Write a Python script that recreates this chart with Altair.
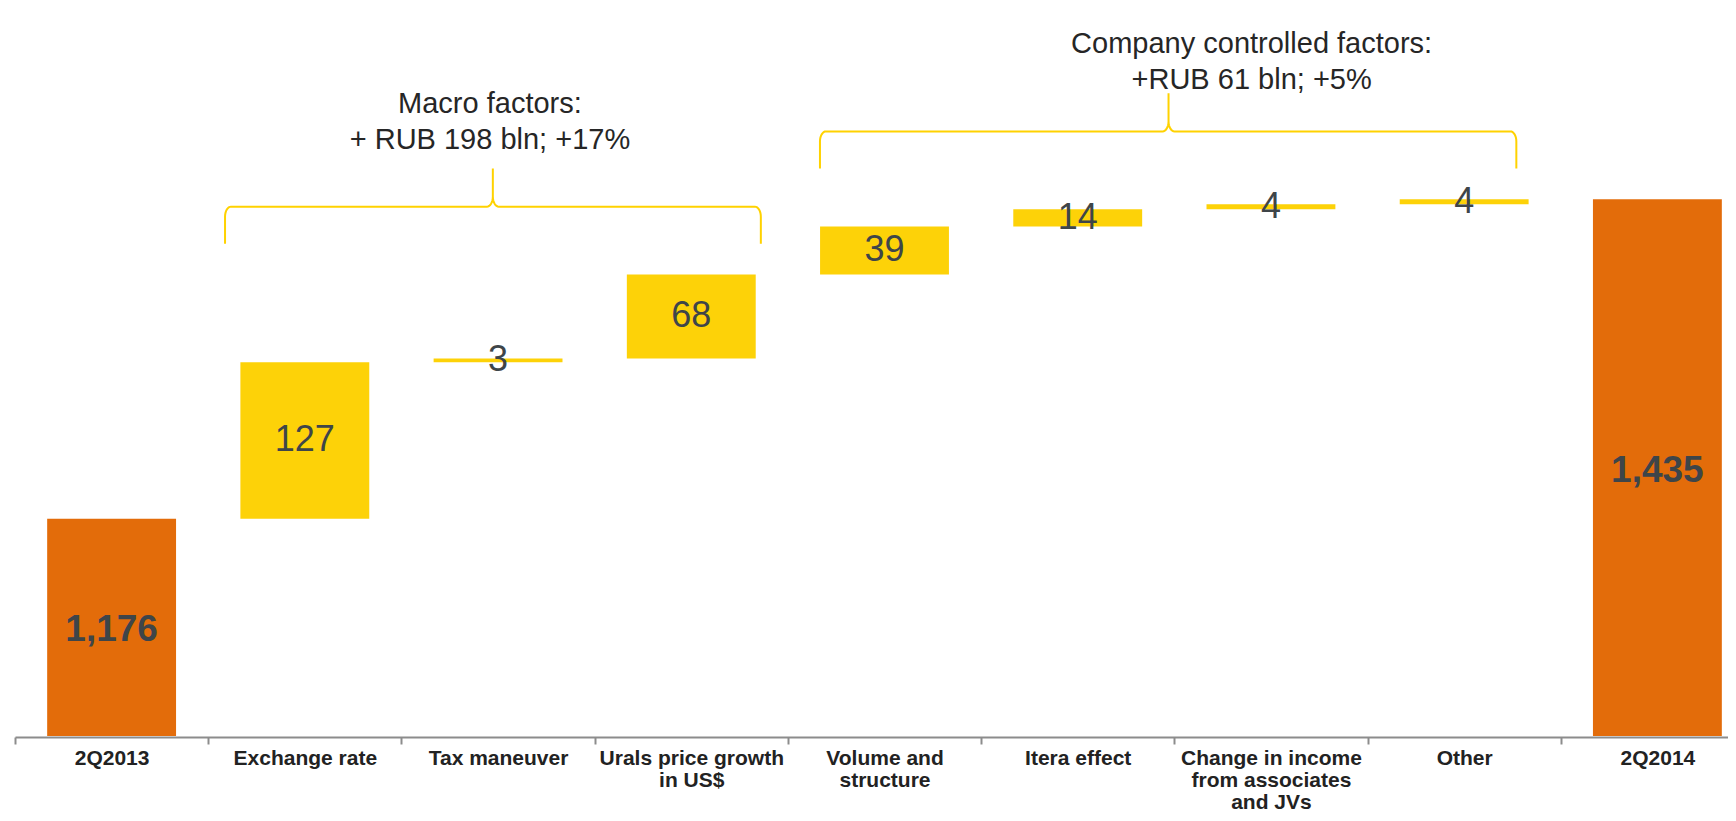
import numpy as np
import pandas as pd
import altair as alt

# ---------------- data ----------------
categories = ["2Q2013", "Exchange rate", "Tax maneuver", "Urals price growth|in US$",
              "Volume and|structure", "Itera effect", "Change in income|from associates|and JVs",
              "Other", "2Q2014"]
values = [1176, 127, 3, 68, 39, 14, 4, 4, 1435]
kinds = ["total", "delta", "delta", "delta", "delta", "delta", "delta", "delta", "total"]

group_names = ["Macro", "Company"]
group_members = [[1, 2, 3], [4, 5, 6, 7]]
group_text = ["Macro factors:\n+ RUB 198 bln; +17%", "Company controlled factors:\n+RUB 61 bln; +5%"]
brace_left = [0.587, 3.666]
brace_tip = [1.973, 5.47]
brace_right = [3.36, 7.27]
text_x = [1.958, 5.90]
text_y = [1511.8, 1560.8]

Y_MIN, Y_MAX = 1000, 1590
W, H = 1713, 728
X_RANGE = 1739
PX_X = X_RANGE / 9.0
PX_Y = H / (Y_MAX - Y_MIN)

ORANGE = "#E36C0A"
YELLOW = "#FDD208"
BRACE = "#FFD200"
NUM = "#3E4549"
DARK = "#262626"
GRAY = "#8C8C8C"
FONT = "Liberation Sans"

# ---------------- waterfall table ----------------
rows = []
run = 0
for c, v, k in zip(categories, values, kinds):
    if k == "total":
        start, end = Y_MIN, v
        run = v
    else:
        start, end = run, run + v
        run = end
    rows.append(dict(cat=c, value=v, kind=k, start=start, end=end, mid=(max(start, Y_MIN) + end) / 2))
df = pd.DataFrame(rows)
ends = df["end"].tolist()

# ---------------- braces ----------------
rx = 6 / PX_X
ry = 10 / PX_Y
t = np.linspace(0, np.pi / 2, 9)
brace_rows = []
for g, mem, xl, xt, xr in zip(group_names, group_members, brace_left, brace_tip, brace_right):
    top = max(ends[i] for i in mem)
    base, mid, tipy = top + 25, top + 55, top + 86
    pts = [(xl, base)]
    pts += [(xl + rx - rx * np.cos(a), mid - ry + ry * np.sin(a)) for a in t]
    pts += [(xt - rx + rx * np.sin(a), mid + ry - ry * np.cos(a)) for a in t]
    pts += [(xt, tipy)]
    pts += [(xt + rx - rx * np.cos(a), mid + ry - ry * np.sin(a)) for a in t]
    pts += [(xr - rx + rx * np.sin(a), mid - ry + ry * np.cos(a)) for a in t]
    pts += [(xr, base)]
    for k, (px, py) in enumerate(pts):
        brace_rows.append(dict(g=g, k=k, bx=float(px), by=float(py)))
bdf = pd.DataFrame(brace_rows)
adf = pd.DataFrame(dict(g=group_names, txt=group_text, tx=text_x, ty=text_y))

# ---------------- chart ----------------
yscale = alt.Scale(domain=[Y_MIN, Y_MAX], nice=False, zero=False)
xband = alt.X("cat:N", sort=categories,
              scale=alt.Scale(paddingInner=0, paddingOuter=0, range=[0, X_RANGE]),
              axis=alt.Axis(title=None,
                            labelExpr="isValid(datum.value) ? split(datum.value, '|') : ''",
                            labelAngle=0,
                            labelFont=FONT, labelFontSize=21, labelFontWeight="bold",
                            labelColor="#222222", labelLineHeight=22, labelPadding=3,
                            labelBaseline="top", labelLimit=400, labelOverlap=False,
                            tickBand="extent", tickSize=7, tickWidth=2, tickColor=GRAY,
                            domainColor=GRAY, domainWidth=2, offset=1, grid=False))

bars = alt.Chart(df).mark_bar(width=alt.RelativeBandSize(0.667)).encode(
    x=xband,
    y=alt.Y("start:Q", scale=yscale, axis=None),
    y2="end:Q",
    color=alt.Color("kind:N", scale=alt.Scale(domain=["total", "delta"], range=[ORANGE, YELLOW]), legend=None),
)
lab_delta = alt.Chart(df).transform_filter("datum.kind == 'delta'").mark_text(
    font=FONT, fontSize=36, color=NUM, baseline="middle").encode(
    x=alt.X("cat:N", sort=categories), y=alt.Y("mid:Q"), text=alt.Text("value:Q", format=",.0f"))
lab_total = alt.Chart(df).transform_filter("datum.kind == 'total'").mark_text(
    font=FONT, fontSize=37, fontWeight="bold", color=NUM, baseline="middle", dy=3).encode(
    x=alt.X("cat:N", sort=categories), y=alt.Y("mid:Q"), text=alt.Text("value:Q", format=",.0f"))

main = alt.layer(bars, lab_delta, lab_total)

xq = alt.Scale(domain=[-0.5, 8.5], range=[0, X_RANGE], nice=False, zero=False)
brace = alt.Chart(bdf).mark_line(color=BRACE, strokeWidth=2).encode(
    x=alt.X("bx:Q", scale=xq, axis=None),
    y=alt.Y("by:Q"),
    detail="g:N",
    order="k:Q",
)
annot = alt.Chart(adf).mark_text(font=FONT, fontSize=29, color=DARK, baseline="middle",
                                 align="center", lineBreak="\n", lineHeight=36).encode(
    x=alt.X("tx:Q", scale=xq, axis=None),
    y=alt.Y("ty:Q"),
    text="txt:N",
)

chart = alt.layer(main, brace, annot).resolve_scale(x="independent").properties(
    width=W, height=H,
    autosize=alt.AutoSizeParams(type="none"),
    padding={"left": 7, "top": 0, "right": 0, "bottom": 77},
).configure_view(strokeWidth=0)

chart.save("out.html", embed_options={"renderer": "svg", "actions": False})
